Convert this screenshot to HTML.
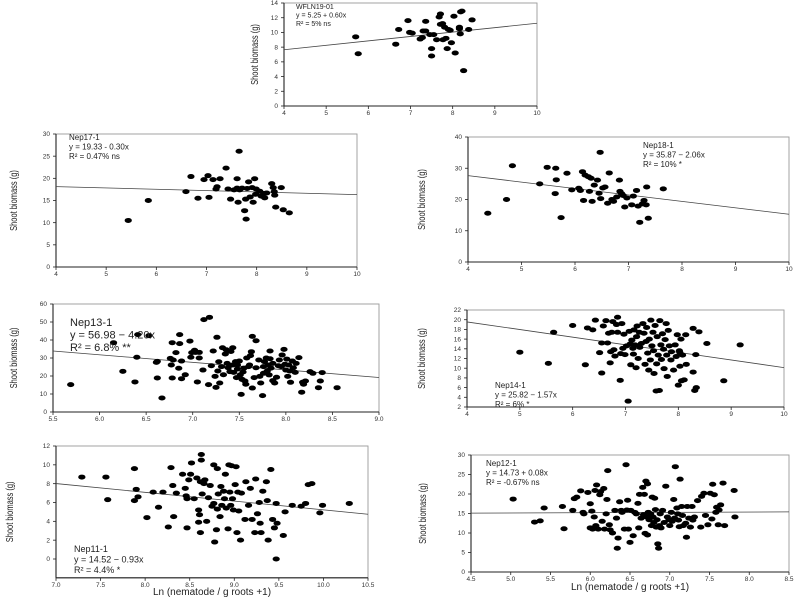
<!DOCTYPE html>
<html><head><meta charset="utf-8"><style>
html,body{margin:0;padding:0;background:#fff;}
svg{display:block;font-family:"Liberation Sans",sans-serif;}
</style></head><body>
<svg id="chart" width="800" height="600" viewBox="0 0 800 600" xmlns="http://www.w3.org/2000/svg"></svg>
<script>
// ---- data (Ln nematode, shoot biomass) ----
const xA=[5.7,5.76,6.65,6.72,6.94,6.98,7.04,7.23,7.28,7.3,7.36,7.36,7.46,7.5,7.5,7.55,7.62,7.68,7.71,7.71,7.76,7.77,7.81,7.84,7.87,7.9,7.94,7.97,8.03,8.06,8.16,8.16,8.18,8.19,8.22,8.26,8.38,8.46];
const yA=[9.4,7.1,8.4,10.4,11.6,10.0,9.9,9.1,9.3,10.2,11.5,10.2,9.7,7.8,6.8,9.7,9.0,12.1,12.5,11.1,11.2,9.0,10.7,9.2,7.8,10.4,10.3,8.6,12.2,7.2,10.5,10.7,9.8,12.8,12.9,4.8,10.4,11.7];
const xB=[5.44,5.84,6.59,6.69,6.83,6.95,7.03,7.05,7.13,7.19,7.21,7.27,7.39,7.43,7.48,7.55,7.61,7.61,7.63,7.65,7.66,7.71,7.76,7.78,7.79,7.81,7.84,7.87,7.91,7.93,7.96,7.98,7.99,8.06,8.09,8.14,8.16,8.2,8.3,8.33,8.35,8.36,8.38,8.49,8.53,8.65];
const yB=[10.5,15.0,17.0,20.4,15.5,19.7,20.6,15.7,19.7,17.6,18.1,19.9,22.3,17.6,15.3,17.4,19.9,17.8,14.6,26.1,17.4,17.8,12.7,15.3,10.8,17.7,19.2,15.8,17.9,14.6,19.9,16.4,17.6,17.1,16.0,16.6,15.6,16.7,18.8,17.9,17.0,16.2,13.5,17.9,12.9,12.2];
const xC=[4.37,4.72,4.83,5.34,5.48,5.64,5.65,5.63,5.74,5.85,5.94,6.07,6.1,6.14,6.16,6.19,6.25,6.27,6.3,6.32,6.36,6.42,6.45,6.47,6.48,6.52,6.56,6.61,6.64,6.69,6.72,6.78,6.83,6.87,6.9,6.93,6.97,7.06,7.15,7.18,7.21,7.26,7.29,7.33,7.34,7.37,7.65,7.09,6.84];
const yC=[15.6,20.0,30.8,25.0,30.3,30.0,26.3,21.9,14.2,28.4,23.1,23.6,22.9,28.9,19.7,27.8,27.3,22.6,26.8,19.4,24.6,26.2,22.0,35.1,20.3,23.7,24.0,18.8,28.5,20.0,19.4,20.8,26.2,21.9,21.3,17.6,20.5,18.3,22.9,17.9,12.7,18.6,19.7,18.3,24.0,14.0,23.4,21.1,22.6];
const xD=[5.69,6.15,6.25,6.38,6.4,6.41,6.53,6.61,6.62,6.62,6.67,6.76,6.77,6.78,6.78,6.79,6.82,6.85,6.86,6.86,6.88,6.88,6.92,6.97,6.98,6.99,7.02,7.03,7.05,7.07,7.07,7.12,7.18,7.17,7.11,7.2,7.22,7.24,7.25,7.26,7.27,7.28,7.29,7.31,7.32,7.33,7.35,7.36,7.37,7.38,7.4,7.41,7.43,7.43,7.44,7.46,7.47,7.48,7.48,7.5,7.51,7.52,7.53,7.54,7.55,7.56,7.57,7.58,7.6,7.61,7.62,7.63,7.64,7.64,7.66,7.68,7.68,7.71,7.72,7.73,7.75,7.76,7.76,7.77,7.79,7.8,7.81,7.82,7.83,7.83,7.84,7.86,7.86,7.88,7.9,7.92,7.93,7.95,7.96,7.98,7.99,8.0,8.01,8.02,8.03,8.04,8.05,8.07,8.08,8.1,8.11,8.14,8.17,8.18,8.19,8.21,8.26,8.29,8.35,8.37,8.39,8.55];
const yD=[15.2,38.5,22.6,16.7,30.4,43,42.4,27.6,28.1,18.9,7.8,29.8,26.1,18.9,38.5,28.9,33,24.3,38,43,18.5,28.3,20.7,39.4,30.4,33,34.3,33.1,16.7,33.1,30,51.3,52.6,15.2,23.3,25.7,33.9,19.8,13.7,41.5,22.8,27.9,16.1,25.2,35.7,20.7,32.2,34.6,27,24.6,22.4,33.6,35.7,26.1,22.0,28,19.1,23.9,26.1,28.3,20.6,9.8,18.1,22.2,24.4,17.2,15.4,30.0,25.2,26.1,31.3,33.5,42.0,13.3,19.1,39.6,24.6,28.9,19.8,16.1,9.1,21.5,25.2,28,30,22.8,26.1,20.6,29.6,33.9,24.4,17.4,27,16.1,19.3,25.7,28.9,25.2,31.7,34.8,26.5,23.3,29.4,19.8,26.1,22.8,16.5,28.3,24.6,22.0,27,30.2,11,16.5,15.4,17.2,22.4,21.5,13.5,17.2,21.9,13.5];
const xE=[5.0,5.54,5.64,6.0,6.24,6.28,6.38,6.43,6.51,6.55,6.55,6.58,6.63,6.66,6.68,6.71,6.72,6.74,6.76,6.78,6.8,6.83,6.85,6.85,6.9,6.91,6.93,6.95,6.97,6.99,7.02,7.05,7.07,7.09,7.1,7.12,7.14,7.15,7.16,7.18,7.2,7.21,7.22,7.24,7.26,7.27,7.3,7.33,7.35,7.37,7.39,7.4,7.42,7.44,7.45,7.47,7.48,7.5,7.52,7.53,7.54,7.56,7.58,7.59,7.6,7.62,7.64,7.65,7.67,7.68,7.7,7.72,7.73,7.75,7.77,7.78,7.79,7.81,7.83,7.86,7.87,7.91,7.94,7.96,7.98,8.0,8.02,8.03,8.05,8.06,8.08,8.11,8.14,8.15,8.28,8.28,8.31,8.33,8.34,8.39,8.54,8.86,9.17,8.03];
const yE=[13.3,11.0,17.4,18.8,10.7,18.3,17.9,19.9,13.2,9.0,15.2,18.7,19.8,15.2,17.2,11.1,13.4,17.4,19.6,13.8,12.5,19.0,20.5,17.4,7.5,13.0,19.2,14.1,17.0,12.8,14.6,3.2,17.6,15.0,10.7,15.8,14.1,12.9,17.9,14.8,10.1,16.5,18.7,12.0,17.4,14.3,15.1,19.2,17.2,10.8,15.5,18.4,13.1,9.6,16.0,11.7,19.9,14.6,17.4,13.6,8.9,18.8,5.3,10.9,16.5,12.7,5.4,19.8,14.8,11.8,17.1,13.9,9.9,15.9,19.2,12.7,8.3,17.8,14.6,11.7,13.4,9.6,14.8,12.4,16.9,6.5,13.6,10.4,16.0,7.4,12.7,7.6,16.9,10.8,9.2,18.2,5.4,12.8,6.0,17.5,15.1,7.4,14.8,13.2];
const xF=[7.29,7.56,7.58,7.88,7.88,7.9,7.92,8.02,8.09,8.15,8.2,8.26,8.29,8.31,8.32,8.35,8.42,8.45,8.46,8.47,8.47,8.49,8.51,8.52,8.55,8.58,8.6,8.6,8.61,8.62,8.62,8.63,8.63,8.64,8.66,8.67,8.69,8.71,8.73,8.75,8.77,8.77,8.78,8.8,8.81,8.81,8.82,8.84,8.85,8.86,8.88,8.89,8.9,8.91,8.93,8.94,8.95,8.96,8.97,8.98,8.99,9.01,9.02,9.03,9.04,9.05,9.07,9.08,9.12,9.13,9.16,9.18,9.2,9.23,9.24,9.26,9.28,9.29,9.3,9.32,9.36,9.37,9.38,9.41,9.43,9.45,9.47,9.47,9.48,9.55,9.57,9.65,9.75,9.8,9.83,9.87,9.96,9.99,10.29];
const yF=[8.7,8.7,6.3,9.6,6.2,7.4,6.6,4.4,7.1,5.5,7.1,3.4,9.7,7.8,4.5,7.0,9.0,7.5,6.7,3.3,6.4,8.4,9.0,10.2,6.4,8.6,3.9,5.2,4.7,2.8,8.2,11.1,10.5,6.9,8.0,8.4,4.0,6.5,7.8,5.6,10.0,5.9,1.8,3.1,9.6,5.3,6.9,4.5,7.7,5.7,7.2,6.4,9.0,5.4,3.2,10.0,7.1,5.7,9.9,6.4,5.2,7.9,9.8,2.8,7.1,5.1,2.0,7.0,4.2,8.2,5.7,7.5,4.2,2.8,8.5,4.8,6.0,3.8,2.8,7.2,8.2,6.2,2.0,9.5,4.2,3.3,0.0,5.9,3.8,2.5,5.0,5.7,5.6,5.9,7.9,8.0,4.9,5.7,5.9];
const xG=[5.03,5.3,5.37,5.42,5.65,5.67,5.78,5.8,5.83,5.88,5.91,5.92,5.97,6.0,6.0,6.02,6.03,6.05,6.06,6.07,6.08,6.1,6.12,6.13,6.15,6.17,6.18,6.2,6.21,6.22,6.24,6.25,6.28,6.31,6.33,6.34,6.35,6.37,6.39,6.4,6.43,6.45,6.46,6.47,6.48,6.5,6.51,6.54,6.56,6.58,6.6,6.61,6.62,6.64,6.66,6.67,6.68,6.69,6.7,6.71,6.72,6.72,6.73,6.74,6.76,6.77,6.78,6.79,6.8,6.81,6.82,6.83,6.84,6.85,6.86,6.87,6.88,6.89,6.91,6.93,6.95,6.97,6.99,7.0,7.02,7.03,7.05,7.06,7.07,7.09,7.1,7.11,7.12,7.13,7.15,7.16,7.17,7.2,7.21,7.22,7.24,7.26,7.28,7.29,7.31,7.35,7.39,7.4,7.43,7.45,7.48,7.51,7.53,7.54,7.56,7.58,7.59,7.61,7.62,7.64,7.67,7.69,7.81,7.82];
const yG=[18.7,12.8,13.1,16.4,16.8,11.1,15.8,18.8,19.2,20.8,15.3,14.9,20.4,17.5,11.3,15.6,11.0,14.1,20.9,11.9,22.3,11.0,19.8,20.6,13.0,21.4,11.0,14.9,18.6,26.0,12.1,10.8,10.0,15.8,13.8,6.1,8.7,18.0,15.8,15.3,11.0,27.5,15.9,18.4,11.0,7.6,15.8,9.3,15.3,14.9,17.6,11.3,19.9,13.8,21.7,14.7,19.9,9.9,23.3,14.1,22.6,9.5,15.3,13.4,14.9,11.9,19.2,14.1,12.7,18.9,16.0,11.5,13.4,7.2,6.1,11.9,14.9,11.3,15.8,12.7,22.0,14.1,13.4,11.9,15.3,13.0,18.6,13.8,27.0,16.4,14.9,13.3,11.6,23.8,16.8,14.5,11.9,12.5,8.9,16.8,13.8,11.5,16.8,13.3,14.1,18.3,11.5,19.4,20.2,14.5,12.1,20.2,13.6,22.5,19.8,15.3,16.6,12.1,15.9,17.2,22.8,11.9,20.9,14.1];
// x tick labels
const xTicksInt=[4,5,6,7,8,9,10];
const xTicksD=["5.5","6.0","6.5","7.0","7.5","8.0","8.5","9.0"];
const xTicksF=["7.0","7.5","8.0","8.5","9.0","9.5","10.0","10.5"];
const xTicksG=["4.5","5.0","5.5","6.0","6.5","7.0","7.5","8.0","8.5"];
// regression coefficients [intercept, slope]
const regA=[5.25,0.60], regB=[19.33,-0.30], regC=[35.87,-2.06], regD=[56.98,-4.20], regE=[25.82,-1.57], regF=[14.52,-0.93], regG=[14.73,0.08];

const NS="http://www.w3.org/2000/svg";
const svg=document.getElementById('chart');
function mk(tag,attrs,parent){const e=document.createElementNS(NS,tag);for(const k in attrs)e.setAttribute(k,attrs[k]);(parent||svg).appendChild(e);return e;}

const panels=[
 {id:'wfln19-01',xs:xA,ys:yA,reg:regA,px:[284,537],py:[106,3],xd:[4,10],yd:[0,14],yt:[0,2,4,6,8,10,12,14],xt:xTicksInt.map(String),ytx:255,eq:['WFLN19-01','y = 5.25 + 0.60x','  R² = 5% ns'],ex:296,ey:9,fs:7},
 {id:'nep17-1',xs:xB,ys:yB,reg:regB,px:[56,357],py:[267,134],xd:[4,10],yd:[0,30],yt:[0,5,10,15,20,25,30],xt:xTicksInt.map(String),ytx:14,eq:['Nep17-1','y = 19.33 - 0.30x','R² = 0.47% ns'],ex:69,ey:140,fs:8},
 {id:'nep18-1',xs:xC,ys:yC,reg:regC,px:[468,789],py:[262,137],xd:[4,10],yd:[0,40],yt:[0,10,20,30,40],xt:xTicksInt.map(String),ytx:422,eq:['Nep18-1','y = 35.87 − 2.06x','R² = 10% *'],ex:643,ey:148,fs:8},
 {id:'nep13-1',xs:xD,ys:yD,reg:regD,px:[53,379],py:[412,304],xd:[5.5,9.0],yd:[0,60],yt:[0,10,20,30,40,50,60],xt:xTicksD,ytx:14,eq:['Nep13-1','y = 56.98 − 4.20x','R² = 6.8% **'],ex:70,ey:326,fs:11},
 {id:'nep14-1',xs:xE,ys:yE,reg:regE,px:[467,784],py:[407,310],xd:[4,10],yd:[2,22],yt:[2,4,6,8,10,12,14,16,18,20,22],xt:xTicksInt.map(String),ytx:422,eq:['Nep14-1','y = 25.82 − 1.57x','R² = 6% *'],ex:495,ey:388,fs:8},
 {id:'nep11-1',xs:xF,ys:yF,reg:regF,px:[56,368],py:[559,446],xd:[7.0,10.5],yd:[0,12],yt:[0,2,4,6,8,10,12],ybot:-2,xt:xTicksF,ytx:10,eq:['Nep11-1','y = 14.52 − 0.93x','R² = 4.4% *'],ex:74,ey:552,fs:9,xtitle:[212,595]},
 {id:'nep12-1',xs:xG,ys:yG,reg:regG,px:[471,789],py:[572,455],xd:[4.5,8.5],yd:[0,30],yt:[0,5,10,15,20,25,30],xt:xTicksG,ytx:423,eq:['Nep12-1','y = 14.73 + 0.08x','R² = -0.67% ns'],ex:486,ey:466,fs:8,xtitle:[630,590]}
];

panels.forEach(p=>{
 const g=mk('g',{});
 
 
 const sx=v=>p.px[0]+(v-p.xd[0])/(p.xd[1]-p.xd[0])*(p.px[1]-p.px[0]);
 const sy=v=>p.py[0]+(v-p.yd[0])/(p.yd[1]-p.yd[0])*(p.py[1]-p.py[0]);
 const bottom=p.ybot!==undefined?sy(p.ybot):p.py[0];
 const top=p.py[1];
 const box=mk('rect',{x:p.px[0],y:top,width:p.px[1]-p.px[0],height:bottom-top,fill:'none',stroke:'#999','stroke-width':0.9},g);
 
 
 const ya=mk('line',{x1:p.px[0],y1:top,x2:p.px[0],y2:bottom,stroke:'#222','stroke-width':1.1},g);
 
 
 const xa=mk('line',{x1:p.px[0],y1:bottom,x2:p.px[1],y2:bottom,stroke:'#222','stroke-width':1.1},g);
 
 
 p.yt.forEach(v=>{
  const y=sy(v);
  mk('line',{x1:p.px[0]-3,y1:y,x2:p.px[0],y2:y,stroke:'#222','stroke-width':0.8},g);
  const t=mk('text',{x:p.px[0]-6,y:y+2.2,'font-size':6.5,'text-anchor':'end',fill:'#333'},g);
  t.textContent=v;
  
  
 });
 p.xt.forEach(s=>{
  const x=sx(parseFloat(s));
  mk('line',{x1:x,y1:bottom,x2:x,y2:bottom+3,stroke:'#222','stroke-width':0.8},g);
  const t=mk('text',{x:x,y:bottom+9,'font-size':6.5,'text-anchor':'middle',fill:'#333'},g);
  t.textContent=s;
  
  
 });
 const cy=(top+bottom)/2;
 const yt=mk('text',{x:0,y:0,'font-size':10,'text-anchor':'middle',fill:'#222',transform:`translate(${p.ytx+3},${cy}) rotate(-90) scale(0.75,1)`},g);
 yt.textContent='Shoot biomass (g)';
 
 
 const rl=mk('line',{x1:p.px[0],y1:sy(p.reg[0]+p.reg[1]*p.xd[0]),x2:p.px[1],y2:sy(p.reg[0]+p.reg[1]*p.xd[1]),stroke:'#444','stroke-width':0.8},g);
 
 
 p.xs.forEach((xv,i)=>{
  const e=mk('ellipse',{cx:sx(xv),cy:sy(p.ys[i]),rx:3.6,ry:2.5,fill:'#000'},g);
  
  
 });
 p.eq.forEach((s,i)=>{
  const t=mk('text',{x:p.ex,y:p.ey+i*(p.fs+1.5),'font-size':p.fs,fill:'#222','xml:space':'preserve'},g);
  t.textContent=s;
  
  
 });
 if(p.xtitle){
  const t=mk('text',{x:p.xtitle[0],y:p.xtitle[1],'font-size':10,'text-anchor':'middle',fill:'#222'},g);
  t.textContent='Ln (nematode / g roots +1)';
  
  
 }
});
</script>
</body></html>
